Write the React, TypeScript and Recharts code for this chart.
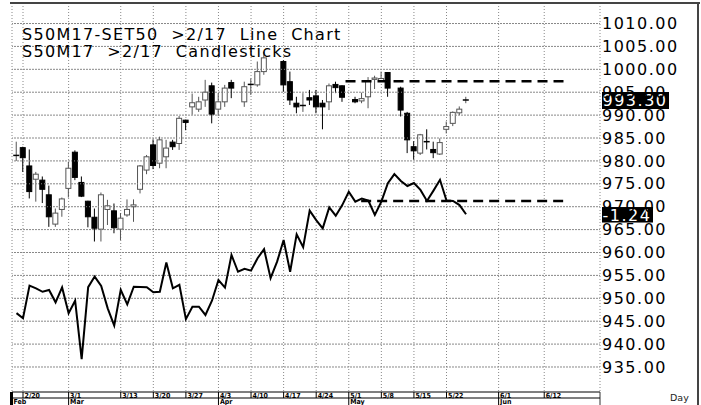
import { ComposedChart, Bar, Line, XAxis, YAxis, CartesianGrid, ReferenceLine } from "recharts";

// weekday slots from 2/17; null candle = no trading that day
const dates = [
  "2/17", "2/20", "2/21", "2/22", "2/23", "2/24", "2/27", "2/28", "3/1", "3/2",
  "3/3", "3/6", "3/7", "3/8", "3/9", "3/10", "3/13", "3/14", "3/15", "3/16",
  "3/17", "3/20", "3/21", "3/22", "3/23", "3/24", "3/27", "3/28", "3/29", "3/30",
  "3/31", "4/3", "4/4", "4/5", "4/6", "4/7", "4/10", "4/11", "4/12", "4/13",
  "4/14", "4/17", "4/18", "4/19", "4/20", "4/21", "4/24", "4/25", "4/26", "4/27",
  "4/28", "5/1", "5/2", "5/3", "5/4", "5/5", "5/8", "5/9", "5/10", "5/11",
  "5/12", "5/15", "5/16", "5/17", "5/18", "5/19", "5/22", "5/23", "5/24", "5/25",
];

const open = [
  981.2, 982.9, 978.9, 976.0, 975.8, 972.6, 966.2, 969.4, 974.0, 981.9,
  975.3, 971.2, 967.7, 965.1, 969.4, 969.1, 965.1, 968.2, 970.0, 973.8,
  978.0, 983.5, 979.5, 980.9, 984.1, 983.8, 988.9, 991.8, 991.3, 993.3,
  996.4, 991.3, 992.9, 997.1, null, 992.9, 996.5, 996.6, 999.5, null,
  null, 1001.7, 997.3, 992.6, 992.1, 993.8, 994.2, 992.6, 992.9, 996.7,
  996.4, null, 993.4, 993.1, 994.0, 997.8, 997.4, 999.3, null, 995.9,
  990.4, 983.1, 981.7, 984.2, 982.5, 981.5, 986.9, 988.2, 990.5, 993.3,
];
const high = [
  984.2, 983.1, 982.5, 977.6, 976.6, 974.6, 969.6, 972.0, 979.8, 982.3,
  976.6, 971.3, 969.6, 973.1, 971.5, 970.7, 968.6, 971.6, 971.6, 979.1,
  981.3, 984.7, 985.3, 984.6, 984.6, 989.8, 989.0, 994.7, 994.0, 997.7,
  997.1, 994.8, 996.6, 997.7, null, 997.3, 998.0, 1001.7, 1003.8, null,
  null, 1002.0, 999.5, 994.0, 994.8, 995.5, 995.5, 993.3, 996.9, 997.3,
  996.5, null, 994.0, 994.9, 998.3, 998.6, 999.5, 999.4, null, 996.2,
  990.7, 984.3, 985.9, 986.9, 984.2, 984.9, 988.6, 990.8, 991.9, 994.0,
];
const low = [
  980.0, 977.6, 971.8, 971.1, 970.8, 965.6, 965.6, 967.8, 972.0, 975.8,
  972.1, 965.5, 962.4, 962.4, 966.0, 964.2, 962.7, 967.8, 966.7, 972.9,
  977.1, 978.2, 978.4, 978.4, 982.4, 982.4, 986.7, 990.1, 990.7, 991.8,
  988.2, 989.8, 991.8, 993.7, null, 991.8, 994.4, 996.2, 998.8, null,
  null, 995.1, 992.2, 990.4, 990.7, 992.2, 990.4, 986.9, 991.1, 994.8,
  992.9, null, 992.6, 992.6, 991.5, 995.7, 997.3, 994.0, null, 989.7,
  981.7, 980.3, 981.3, 982.5, 980.6, 981.3, 986.0, 987.6, 990.0, 992.6,
];
const close = [
  981.2, 980.7, 973.3, 977.1, 973.8, 967.8, 968.6, 971.7, 978.4, 976.4,
  972.3, 967.8, 965.3, 972.6, 970.2, 965.4, 967.5, 969.4, 970.4, 978.9,
  980.9, 979.0, 984.6, 982.8, 983.1, 989.3, 988.4, 992.7, 992.9, 995.0,
  990.2, 992.9, 995.9, 995.9, null, 996.2, 996.7, 999.5, 1002.5, null,
  null, 996.6, 993.3, 991.8, 992.1, 993.3, 991.8, 991.8, 996.4, 996.0,
  993.9, null, 992.9, 993.6, 997.5, 998.1, 998.0, 995.9, null, 991.1,
  984.6, 982.2, 985.7, 984.0, 981.8, 984.0, 987.5, 990.6, 991.3, 993.3,
];

// S50M17 - SET50 basis
const basis = [
  -5.54, -5.76, -4.34, -4.46, -4.61, -4.53, -5.07, -4.42, -5.54, -5.0,
  -7.54, -4.41, -3.95, -4.36, -5.33, -6.08, -4.53, -5.16, -4.39, -4.4,
  -4.41, -4.63, -4.61, -3.34, -4.46, -4.31, -5.8, -5.26, -5.26, -5.62,
  -5.0, -4.1, -4.43, -3.01, -3.74, -3.61, -3.69, -3.15, -2.76, -4.02,
  -3.3, -2.36, -3.74, -2.11, -2.67, -1.08, -1.49, -1.85, -0.94, -1.3,
  -0.84, -0.26, -0.69, -0.56, -0.64, -1.27, -0.69, 0.11, 0.51, 0.21,
  -0.01, 0.12, -0.18, -0.66, -0.21, 0.26, -0.64, -0.66, -0.84, -1.24,
];

const X_MIN = -0.69;
const X_MAX = 89.56;
const tickDays = [1, 8, 16, 21, 26, 31, 36, 41, 46, 51, 56, 61, 66, 74, 81];
const tickLabels = ["2/20", "3/1", "3/13", "3/20", "3/27", "4/3", "4/10", "4/17", "4/24", "5/1", "5/8", "5/15", "5/22", "6/1", "6/12"];
const monthDays = [X_MIN, 8, 31, 51, 74];
const monthLabels = ["Feb", "Mar", "Apr", "May", "Jun"];

const priceTicks = [935, 940, 945, 950, 955, 960, 965, 970, 975, 980, 985, 990, 995, 1000, 1005, 1010];
const minorTicks = Array.from({ length: 85 }, (_, k) => 930 + k);

const lastPrice = 993.3;
const lastBasis = -1.24;
const priceLevel = 997.4;
const basisLevel = -0.66;

const data = dates.map((d, i) => ({
  i,
  date: d,
  open: open[i],
  high: high[i],
  low: low[i],
  close: close[i],
  basis: basis[i],
}));
const allTicks = [...new Set([...monthDays, ...tickDays])].sort((a, b) => a - b);

const FONT = "DejaVu Sans";
const LS = 1.5;
const NB = "\u00a0";

function Candle(props: any) {
  const { x, y, width, height, payload } = props;
  if (payload.high == null) return null;
  const cx = x + width / 2;
  const top = Math.min(y, y + height);
  const h = Math.abs(height);
  const k = h / (payload.high - payload.low);
  const yo = top + (payload.high - payload.open) * k;
  const yc = top + (payload.high - payload.close) * k;
  const up = payload.close >= payload.open;
  const col = up ? "#555" : "#000";
  const bt = Math.min(yo, yc);
  const bh = Math.abs(yc - yo);
  return (
    <g>
      <line x1={cx} x2={cx} y1={top} y2={top + h} stroke={col} />
      {bh < 1 ? (
        <line x1={cx - 3} x2={cx + 3} y1={bt} y2={bt} stroke="#000" strokeWidth={1.5} />
      ) : (
        <rect x={cx - 2.5} y={bt} width={5} height={bh} fill={up ? "#fff" : "#000"} stroke={col} />
      )}
    </g>
  );
}

function DayTick(props: any) {
  const { x, y, payload } = props;
  const v = payload.value;
  const di = tickDays.indexOf(v);
  const mi = monthDays.indexOf(v);
  const txt = { fontFamily: "DejaVu Sans Condensed", fontSize: 7, fontWeight: 700, fill: "#000" };
  return (
    <g>
      <line x1={x} x2={x} y1={y} y2={y + (mi >= 0 ? 13 : 6)} stroke="#000" />
      {di >= 0 && (
        <text x={x + 1.5} y={y + 5.6} style={txt}>
          {tickLabels[di]}
        </text>
      )}
      {mi >= 0 && (
        <text x={x + 1.5} y={y + 12.4} style={txt}>
          {monthLabels[mi]}
        </text>
      )}
    </g>
  );
}

function ValueBox({ viewBox, text, w, h }: any) {
  if (!viewBox) return null;
  const right = viewBox.x + viewBox.width;
  const cy = viewBox.y;
  return (
    <g>
      <rect x={right + 2} y={cy - h / 2 + 0.5} width={w} height={h} fill="#000" />
      <text x={right + 2.5} y={cy + 6.5} style={{ fontFamily: FONT, fontSize: 16, letterSpacing: LS, fill: "#fff" }}>
        {text}
      </text>
    </g>
  );
}

export default function App() {
  return (
    <div style={{ position: "absolute", left: 0, top: 0, width: 701, height: 405, background: "#fff" }}>
      <ComposedChart width={701} height={405} data={data} margin={{ top: 3, right: 3, bottom: 0, left: 12 }}>
        <CartesianGrid yAxisId="price" stroke="#888" strokeDasharray="1 2" horizontalValues={priceTicks} />
        {priceTicks.map((t) => (
          <ReferenceLine key={t} yAxisId="price" y={t} stroke="#888" strokeDasharray="1 2" />
        ))}
        <XAxis
          dataKey="i"
          type="number"
          domain={[X_MIN, X_MAX]}
          allowDataOverflow
          ticks={allTicks}
          interval={0}
          height={13}
          tickLine={false}
          tickSize={0}
          tickMargin={0}
          axisLine={{ stroke: "#000" }}
          tick={(p: any) => <DayTick {...p} />}
        />
        <YAxis
          yAxisId="minorL"
          orientation="left"
          mirror
          width={0}
          domain={[929.54, 1014.48]}
          allowDataOverflow
          ticks={minorTicks}
          interval={0}
          tick={false}
          tickSize={3}
          tickLine={{ stroke: "#000" }}
          axisLine={{ stroke: "#000", strokeWidth: 3 }}
        />
        <YAxis
          yAxisId="minorR"
          orientation="right"
          mirror
          width={0}
          domain={[929.54, 1014.48]}
          allowDataOverflow
          ticks={minorTicks}
          interval={0}
          tick={false}
          tickSize={2}
          tickLine={{ stroke: "#555" }}
          axisLine={{ stroke: "#333" }}
        />
        <YAxis
          yAxisId="price"
          orientation="right"
          width={98}
          domain={[929.54, 1014.48]}
          allowDataOverflow
          ticks={priceTicks}
          interval={0}
          tickLine={false}
          tickSize={0}
          tickMargin={2}
          axisLine={false}
          tickFormatter={(v: number) => v.toFixed(2)}
          tick={{ fontFamily: FONT, fontSize: 16, letterSpacing: LS, fill: "#000", textAnchor: "start" }}
        />
        <YAxis yAxisId="basis" hide domain={[-8.97, 7.95]} allowDataOverflow />
        <Bar
          yAxisId="price"
          dataKey={(d: any) => (d.high == null ? null : [d.low, d.high])}
          barSize={6}
          shape={(p: any) => <Candle {...p} />}
          isAnimationActive={false}
        />
        <Line
          yAxisId="basis"
          dataKey="basis"
          type="linear"
          stroke="#000"
          strokeWidth={2}
          dot={false}
          isAnimationActive={false}
        />
        <ReferenceLine
          yAxisId="price"
          segment={[{ x: 50.5, y: priceLevel }, { x: 84, y: priceLevel }]}
          stroke="#000"
          strokeWidth={2.5}
          strokeDasharray="10 6"
        />
        <ReferenceLine
          yAxisId="basis"
          segment={[{ x: 52.9, y: basisLevel }, { x: 84.1, y: basisLevel }]}
          stroke="#000"
          strokeWidth={2.5}
          strokeDasharray="10 6"
        />
        <ReferenceLine
          yAxisId="price"
          y={lastPrice}
          stroke="none"
          label={(p: any) => <ValueBox {...p} text={lastPrice.toFixed(2)} w={67} h={17} />}
        />
        <ReferenceLine
          yAxisId="basis"
          y={lastBasis}
          stroke="none"
          label={(p: any) => <ValueBox {...p} text={lastBasis.toFixed(2)} w={51} h={15.5} />}
        />
      </ComposedChart>
      <svg width={701} height={405} style={{ position: "absolute", left: 0, top: 0, pointerEvents: "none" }}>
        <line x1={10} x2={700} y1={3} y2={3} stroke="#444" strokeWidth={2} />
        <line x1={698} x2={698} y1={2} y2={405} stroke="#444" strokeWidth={2} />
        <line x1={600} x2={600} y1={392} y2={405} stroke="#333" />
        <line x1={12} x2={600} y1={398} y2={398} stroke="#000" />
        <line x1={11.5} x2={11.5} y1={392} y2={405} stroke="#000" strokeWidth={3} />
        <g style={{ fontFamily: FONT, fontSize: 16, letterSpacing: 1.3, fill: "#000" }}>
          <text x={22} y={40}>{`S50M17-SET50${NB} >2/17${NB} Line${NB} Chart`}</text>
          <text x={22} y={57.3}>{`S50M17${NB} >2/17${NB} Candlesticks`}</text>
        </g>
        <text x={670} y={401} style={{ fontFamily: FONT, fontSize: 9.5, fill: "#222" }}>
          Day
        </text>
      </svg>
    </div>
  );
}
